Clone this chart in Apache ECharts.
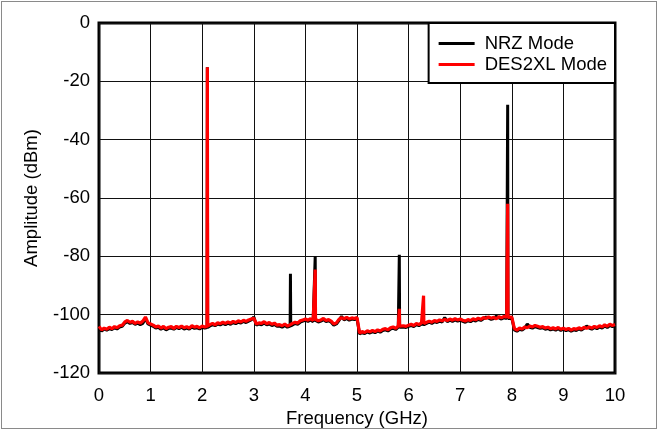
<!DOCTYPE html>
<html><head><meta charset="utf-8">
<script src="https://cdn.jsdelivr.net/npm/echarts@6/dist/echarts.min.js"></script>
<style>
html,body{margin:0;padding:0;background:#fff;}
#frame{position:absolute;left:1px;top:1px;width:654px;height:426px;border:1px solid #8a8a8a;}
#chart{position:absolute;left:0;top:0;width:658px;height:430px;}
</style></head>
<body>
<div id="frame"></div>
<div id="chart"></div>
<script>
// Sample step of the noise-floor readings (GHz), from 0 to 10
const freqStep = 0.05;
const xTicks = [0,1,2,3,4,5,6,7,8,9,10];
const yTicks = [-120,-100,-80,-60,-40,-20,0];

// Noise floor, one value per 0.05 GHz
const desFloor = [
-104.0,-105.2,-104.6,-105.0,-104.3,-104.8,-104.1,-104.5,-103.8,-103.6,-102.5,
-102.0,-102.6,-102.3,-103.0,-102.5,-102.9,-102.2,-100.8,-102.8,-103.2,
-103.6,-104.2,-103.9,-104.6,-104.0,-104.8,-104.3,-104.1,-104.7,-104.0,
-104.4,-103.9,-104.5,-104.1,-104.6,-103.8,-104.3,-104.0,-104.5,-103.9,
-104.2,-104.0,-103.4,-103.0,-103.5,-102.8,-103.1,-102.6,-103.0,-102.5,
-102.9,-102.3,-102.7,-102.1,-102.5,-101.9,-102.3,-101.8,-101.5,-101.2,
-103.2,-102.8,-103.0,-102.4,-103.1,-102.7,-103.3,-102.9,-103.6,-103.4,
-103.8,-103.2,-103.9,-103.5,-103.0,-102.6,-102.9,-102.1,-101.8,-101.5,
-101.9,-101.4,-102.0,-101.6,-102.1,-101.8,-101.3,-102.0,-101.7,-102.2,
-103.2,-102.8,-101.6,-101.0,-101.4,-100.9,-101.5,-101.1,-101.3,-101.0,
-106.3,-105.8,-106.1,-105.5,-105.9,-105.4,-105.8,-105.2,-105.6,-105.0,
-104.8,-105.2,-104.5,-104.2,-104.7,-103.9,-104.1,-103.8,-104.0,-103.6,
-103.3,-103.7,-103.0,-103.4,-102.8,-103.0,-102.6,-102.2,-102.6,-102.0,
-102.3,-101.8,-102.1,-101.6,-102.0,-101.5,-101.9,-101.4,-101.8,-101.5,
-101.9,-102.2,-101.7,-102.0,-101.4,-101.8,-101.2,-101.6,-101.0,-101.3,
-100.8,-101.2,-100.9,-101.4,-100.7,-101.1,-100.6,-100.9,-100.5,-100.8,
-104.8,-105.3,-104.6,-104.9,-104.2,-104.5,-103.9,-104.2,-103.7,-104.0,
-104.3,-104.1,-104.6,-104.3,-104.8,-104.5,-104.9,-104.4,-105.0,-104.6,
-105.1,-104.7,-105.3,-104.8,-105.0,-104.5,-104.9,-104.3,-104.7,-104.2,
-104.6,-104.0,-104.4,-103.8,-104.2,-103.5,-104.0,-103.3,-103.7,-103.4
];
const nrzFloor = [
-104.5,-105.6,-104.9,-105.3,-104.8,-105.1,-104.5,-104.9,-104.2,-104.0,-102.9,
-102.4,-103.0,-102.7,-103.3,-102.9,-103.4,-103.0,-101.3,-103.2,-103.6,
-104.0,-104.6,-104.3,-105.0,-104.5,-105.2,-104.7,-104.6,-105.0,-104.4,
-104.8,-104.3,-104.9,-104.6,-105.0,-104.2,-104.7,-104.5,-104.9,-104.3,
-104.6,-104.4,-103.9,-103.4,-103.8,-103.2,-103.5,-103.0,-103.4,-102.9,
-103.3,-102.7,-103.1,-102.6,-102.9,-102.3,-102.7,-102.2,-101.8,-100.8,
-103.6,-103.2,-103.5,-102.9,-103.5,-103.2,-103.7,-103.4,-104.0,-103.9,
-104.3,-103.7,-104.3,-103.9,-103.4,-103.0,-103.3,-102.6,-102.2,-101.9,
-102.3,-101.8,-102.4,-102.0,-102.5,-102.2,-101.7,-102.4,-102.1,-102.6,
-103.6,-103.2,-102.0,-100.6,-101.8,-101.3,-101.9,-101.5,-101.7,-101.4,
-106.6,-106.2,-106.5,-105.9,-106.3,-105.8,-106.2,-105.6,-106.0,-105.4,
-105.2,-105.6,-104.9,-104.6,-105.1,-104.3,-104.5,-104.2,-104.4,-104.0,
-103.7,-104.1,-103.4,-103.8,-103.2,-103.4,-103.0,-102.6,-103.0,-102.4,
-102.7,-102.2,-102.5,-101.0,-102.4,-101.9,-102.3,-101.8,-102.2,-101.9,
-102.3,-102.6,-102.1,-102.4,-101.8,-102.2,-101.6,-102.0,-101.4,-100.8,
-101.2,-101.6,-101.3,-100.5,-101.1,-101.5,-101.0,-101.3,-100.9,-101.2,
-105.2,-105.7,-105.0,-105.3,-104.6,-103.2,-104.3,-104.6,-104.1,-104.4,
-104.7,-104.5,-105.0,-104.7,-105.2,-104.9,-105.3,-104.8,-105.4,-105.0,
-105.5,-105.1,-105.7,-105.2,-105.4,-104.9,-105.3,-104.7,-103.9,-104.6,
-105.0,-104.4,-104.8,-104.2,-104.6,-103.9,-104.4,-103.7,-104.1,-103.8
];
// Discrete tones: [frequency GHz, peak dBm]
const nrzSpikes = [[2.1,-15.2],[3.71,-86],[4.19,-80],[5.82,-79.5],[7.92,-28]];
const desSpikes = [[2.1,-15.2],[4.19,-84.5],[5.82,-98],[6.29,-93.5],[7.92,-62]];

function build(floor, spikes){
  const pts = [];
  floor.forEach((v,i)=>{
    const f = +(i*freqStep).toFixed(3);
    if (spikes.some(s=>Math.abs(s[0]-f)<0.012)) return;
    pts.push([f, v]);
  });
  spikes.forEach(s=>{
    const base = floor[Math.round(s[0]/freqStep)];
    pts.push([s[0]-0.006, base],[s[0], s[1]],[s[0]+0.006, base]);
  });
  pts.sort((a,b)=>a[0]-b[0]);
  return pts;
}

const chart = echarts.init(document.getElementById('chart'), null, {renderer:'canvas'});
const font = 'Liberation Sans, Arial, sans-serif';
const fs = 18.5;
chart.setOption({
  animation:false,
  backgroundColor:'transparent',
  grid:{left:99,right:43,top:23,bottom:57,outerBoundsMode:'none',containLabel:false,
    show:true,borderColor:'#000',borderWidth:3,backgroundColor:'#fff'},
  xAxis:{type:'value',min:xTicks[0],max:xTicks[xTicks.length-1],interval:1,
    name:'Frequency (GHz)',nameLocation:'middle',nameGap:32,
    nameTextStyle:{fontFamily:font,fontSize:fs,color:'#000'},
    axisLine:{show:false},axisTick:{show:false},
    axisLabel:{fontFamily:font,fontSize:fs,color:'#000',margin:13},
    splitLine:{show:true,lineStyle:{color:'#111',width:1}}},
  yAxis:{type:'value',min:yTicks[0],max:yTicks[yTicks.length-1],interval:20,
    name:'Amplitude (dBm)',nameLocation:'middle',nameGap:58,
    nameTextStyle:{fontFamily:font,fontSize:fs,color:'#000'},
    axisLine:{show:false},axisTick:{show:false},
    axisLabel:{fontFamily:font,fontSize:fs,color:'#000',margin:9},
    splitLine:{show:true,lineStyle:{color:'#111',width:1}}},
  legend:{orient:'vertical',right:43,top:23,
    backgroundColor:'#fff',borderColor:'#000',borderWidth:2,
    padding:[11,8,9,10],itemGap:2,itemWidth:36,itemHeight:3,icon:'rect',
    textStyle:{fontFamily:font,fontSize:fs,color:'#000',padding:[0,0,0,5]},
    data:['NRZ Mode','DES2XL Mode']},
  series:[
    {name:'NRZ Mode',type:'line',data:build(nrzFloor,nrzSpikes),showSymbol:false,
     color:'#000',lineStyle:{color:'#000',width:3},z:2},
    {name:'DES2XL Mode',type:'line',data:build(desFloor,desSpikes),showSymbol:false,
     color:'#f00',lineStyle:{color:'#ff0000',width:3.2},z:3}
  ]
});
</script>
</body></html>
